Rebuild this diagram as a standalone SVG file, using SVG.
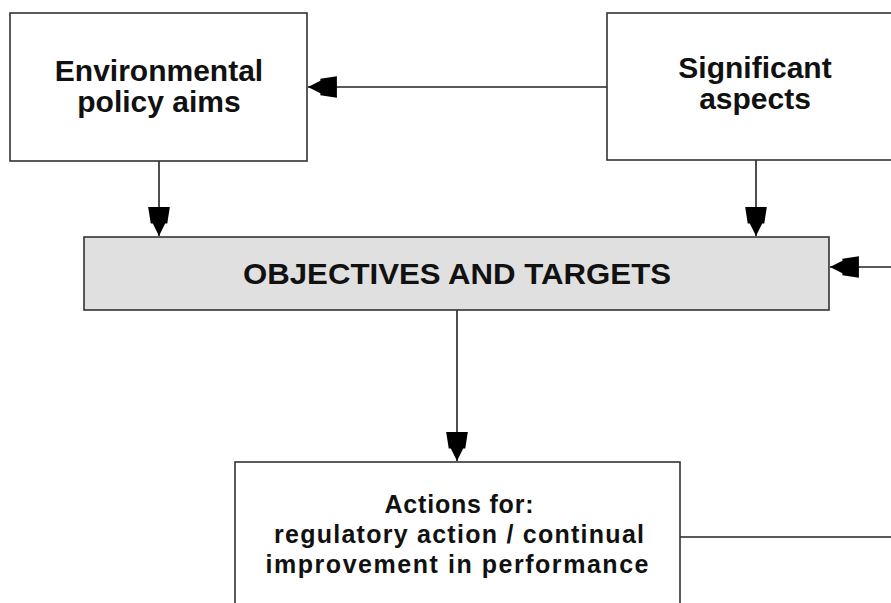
<svg xmlns="http://www.w3.org/2000/svg" width="891" height="603" viewBox="0 0 891 603">
<style>
.box{fill:#fff;stroke:#333;stroke-width:1.6}
.grey{fill:#e0e0e0}
.t{font-family:"Liberation Sans",Arial,sans-serif;font-weight:bold;fill:#111;text-anchor:middle}
.conn{stroke:#222;stroke-width:1.6;fill:none}
</style>
<defs>
<marker id="ah" markerUnits="userSpaceOnUse" markerWidth="32" markerHeight="26" viewBox="-29 -12 31 24" refX="0" refY="0" orient="auto">
<path d="M0,0 L-12,-6 L-12,-8 L-28,-10.5 L-28,10.5 L-12,8 L-12,6 Z" fill="#000"/>
</marker>
</defs>
<rect width="891" height="603" fill="#fff"/>
<g id="connectors">
<path class="conn" d="M607,87 H308" marker-end="url(#ah)"/>
<path class="conn" d="M159,161 V236" marker-end="url(#ah)"/>
<path class="conn" d="M756,160 V236" marker-end="url(#ah)"/>
<path class="conn" d="M891,267 H830" marker-end="url(#ah)"/>
<path class="conn" d="M457,310 V461" marker-end="url(#ah)"/>
<path class="conn" d="M680,537 H891"/>
</g>
<g id="env">
<rect class="box" x="10" y="13" width="297" height="148"/>
<text class="t" font-size="30" x="159" y="81">Environmental</text>
<text class="t" font-size="30" x="159" y="112">policy aims</text>
</g>
<g id="sig">
<rect class="box" x="607" y="13" width="320" height="147"/>
<text class="t" font-size="30" x="755" y="78">Significant</text>
<text class="t" font-size="30" x="755" y="109">aspects</text>
</g>
<g id="obj">
<rect class="box grey" x="84" y="237" width="745" height="73"/>
<text class="t" font-size="30" x="457" y="284" textLength="428" lengthAdjust="spacingAndGlyphs">OBJECTIVES AND TARGETS</text>
</g>
<g id="actions">
<rect class="box" x="235" y="462" width="445" height="160"/>
<text class="t" font-size="25" x="459" y="513" textLength="149" lengthAdjust="spacing">Actions for:</text>
<text class="t" font-size="25" x="459" y="543" textLength="370" lengthAdjust="spacing">regulatory action / continual</text>
<text class="t" font-size="25" x="457" y="573" textLength="383" lengthAdjust="spacing">improvement in performance</text>
</g>
</svg>
